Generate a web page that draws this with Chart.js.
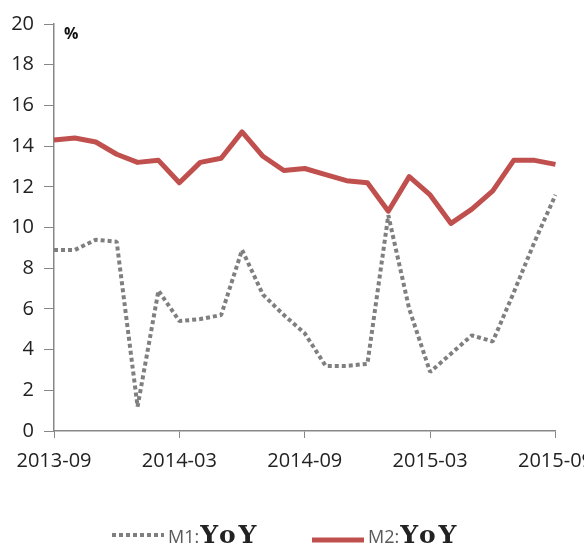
<!DOCTYPE html>
<html>
<head>
<meta charset="utf-8">
<script src="https://cdn.jsdelivr.net/npm/chart.js@4/dist/chart.umd.min.js"></script>
<style>
  html, body { margin: 0; padding: 0; background: #fff; overflow: hidden; }
  #wrap { position: relative; width: 604px; height: 547px; }
</style>
</head>
<body>
<div id="wrap"><canvas id="moneyChart"></canvas></div>
<script>
// months, 2013-09 .. 2015-09
const months = [
  '2013-09', '2013-10', '2013-11', '2013-12', '2014-01', '2014-02', '2014-03',
  '2014-04', '2014-05', '2014-06', '2014-07', '2014-08', '2014-09', '2014-10',
  '2014-11', '2014-12', '2015-01', '2015-02', '2015-03', '2015-04', '2015-05',
  '2015-06', '2015-07', '2015-08', '2015-09'
];
const m1Yoy = [8.9, 8.9, 9.4, 9.3, 1.2, 6.9, 5.4, 5.5, 5.7, 8.9, 6.7, 5.7, 4.8,
  3.2, 3.2, 3.3, 10.6, 6.0, 2.9, 3.8, 4.7, 4.4, 6.8, 9.3, 11.6];
const m2Yoy = [14.3, 14.4, 14.2, 13.6, 13.2, 13.3, 12.2, 13.2, 13.4, 14.7, 13.5,
  12.8, 12.9, 12.6, 12.3, 12.2, 10.8, 12.5, 11.6, 10.2, 10.9, 11.8, 13.3, 13.3, 13.1];
const seriesNames = ['M1:YoY', 'M2:YoY'];
const yTicks = [0, 2, 4, 6, 8, 10, 12, 14, 16, 18, 20];
const unitLabel = '%';

const axisGrey = '#878787';
const sansFont = '"Open Sans", "DejaVu Sans", sans-serif';

// "%" near the top of the y axis
const unitPlugin = {
  id: 'unitText',
  afterDraw(chart) {
    const { ctx, chartArea } = chart;
    ctx.save();
    ctx.font = 'bold 16px ' + sansFont;
    ctx.fillStyle = '#111';
    ctx.textAlign = 'left';
    ctx.textBaseline = 'top';
    ctx.fillText(unitLabel, chartArea.left + 10, chartArea.top + 2);
    ctx.restore();
  }
};

// bottom legend: "M1:" in sans, "YoY" in bold serif
const legendPlugin = {
  id: 'mixedLegend',
  afterDraw(chart) {
    const { ctx } = chart;
    const starts = [112, 312];
    const lineY = [535, 540];
    const baseline = 543;
    ctx.save();
    chart.data.datasets.forEach((ds, i) => {
      const x0 = starts[i];
      ctx.beginPath();
      ctx.strokeStyle = ds.borderColor;
      ctx.lineWidth = ds.borderWidth;
      ctx.setLineDash(ds.borderDash || []);
      ctx.moveTo(x0, lineY[i]);
      ctx.lineTo(x0 + 52, lineY[i]);
      ctx.stroke();
      ctx.setLineDash([]);

      const [name, rest] = ds.label.split(':');
      ctx.textAlign = 'left';
      ctx.textBaseline = 'alphabetic';
      ctx.font = '18px ' + sansFont;
      ctx.fillStyle = '#595959';
      let x = x0 + 56;
      ctx.fillText(name + ':', x, baseline);
      x += ctx.measureText(name + ':').width + 1;
      ctx.font = 'bold 25px "DejaVu Serif", "Liberation Serif", serif';
      ctx.fillStyle = '#222';
      ctx.letterSpacing = '3px';
      ctx.fillText(rest, x, baseline);
      ctx.letterSpacing = '0px';
    });
    ctx.restore();
  }
};

new Chart(document.getElementById('moneyChart'), {
  type: 'line',
  data: {
    labels: months,
    datasets: [
      {
        label: seriesNames[0],
        data: m1Yoy,
        borderColor: '#7f7f7f',
        borderWidth: 4,
        borderDash: [4, 3],
        borderCapStyle: 'butt',
        borderJoinStyle: 'bevel',
        pointRadius: 0,
        tension: 0
      },
      {
        label: seriesNames[1],
        data: m2Yoy,
        borderColor: '#c0504d',
        borderWidth: 5,
        borderJoinStyle: 'round',
        pointRadius: 0,
        tension: 0
      }
    ]
  },
  options: {
    responsive: true,
    maintainAspectRatio: false,
    animation: false,
    layout: { padding: { top: 24, right: 41, bottom: 63, left: 0 } },
    plugins: {
      legend: { display: false },
      tooltip: { enabled: false }
    },
    scales: {
      x: {
        grid: {
          drawOnChartArea: false,
          tickLength: 7,
          tickColor: (ctx) => (ctx.index % 6 === 0 ? axisGrey : 'rgba(0,0,0,0)')
        },
        border: { color: axisGrey, width: 1.5 },
        ticks: {
          autoSkip: false,
          maxRotation: 0,
          padding: 11,
          color: '#222',
          font: { family: sansFont, size: 20 },
          callback: function (value, index) {
            return index % 6 === 0 ? months[index] : '';
          }
        }
      },
      y: {
        min: yTicks[0],
        max: yTicks[yTicks.length - 1],
        afterFit(scale) { scale.width = 54; },
        afterBuildTicks(scale) { scale.ticks = yTicks.map(v => ({ value: v })); },
        grid: { drawOnChartArea: false, tickLength: 10, tickColor: axisGrey },
        border: { color: axisGrey, width: 1.5 },
        ticks: {
          padding: 10,
          color: '#222',
          font: { family: sansFont, size: 20 }
        }
      }
    }
  },
  plugins: [unitPlugin, legendPlugin]
});
</script>
</body>
</html>
